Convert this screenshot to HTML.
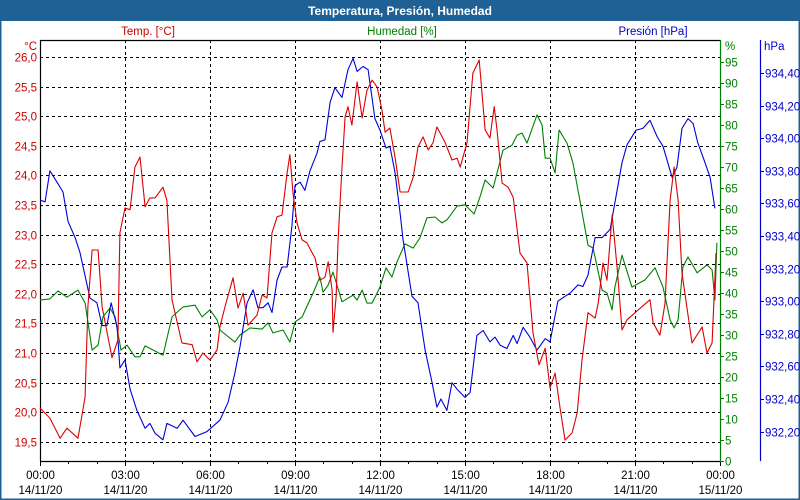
<!DOCTYPE html>
<html><head><meta charset="utf-8">
<style>
html,body{margin:0;padding:0;background:#fff;}
#wrap{position:relative;width:800px;height:500px;overflow:hidden;font-family:"Liberation Sans",sans-serif;}
svg text{font-family:"Liberation Sans",sans-serif;font-size:11.5px;}
</style></head>
<body>
<div id="wrap">
<svg id="chart" width="800" height="500">
  <rect x="0" y="0" width="800" height="500" fill="#fff"/>
  <rect x="0.5" y="0.5" width="799" height="499" fill="none" stroke="#1f6195" stroke-width="2"/>
  <rect x="0" y="0" width="800" height="21" fill="#1f6195"/>
  <text x="400" y="15" text-anchor="middle" fill="#fff" font-weight="bold" style="font-size:12px">Temperatura, Presión, Humedad</text>
  <text x="148" y="35" text-anchor="middle" fill="#cc0000">Temp. [°C]</text>
  <text x="402" y="35" text-anchor="middle" fill="#008000">Humedad [%]</text>
  <text x="653" y="35" text-anchor="middle" fill="#0000cc">Presión [hPa]</text>
  <text x="37" y="50" text-anchor="end" fill="#cc0000">°C</text>
  <text x="725" y="50" fill="#008000">%</text>
  <text x="764" y="50" fill="#0000cc">hPa</text>
  <g id="grid"></g>
  <g id="axes"></g>
  <g id="series"></g>
</svg>
</div>
<script>
const tempHours=[0,0.35,0.71,0.95,1.34,1.59,1.69,1.84,2.05,2.19,2.54,2.75,2.82,3.0,3.18,3.35,3.53,3.71,3.88,4.06,4.34,4.48,4.66,5.01,5.37,5.54,5.75,6.0,6.25,6.35,6.53,6.81,6.99,7.17,7.34,7.66,7.84,8.01,8.19,8.37,8.54,8.72,8.82,8.93,9.07,9.25,9.42,9.71,9.88,10.06,10.17,10.31,10.34,10.45,10.52,10.66,10.77,10.87,11.01,11.19,11.37,11.54,11.72,11.9,12.07,12.18,12.35,12.53,12.71,12.99,13.17,13.34,13.52,13.7,13.87,14.01,14.3,14.54,14.72,14.83,15.07,15.28,15.5,15.6,15.71,15.88,16.03,16.13,16.31,16.52,16.7,16.94,17.19,17.4,17.61,17.83,18.0,18.18,18.35,18.53,18.78,18.96,19.13,19.34,19.59,19.7,19.87,20.01,20.19,20.37,20.54,20.72,21.0,21.53,21.64,21.88,22.06,22.24,22.38,22.52,22.66,23.01,23.37,23.54,23.72,23.86];
const tempValues=[20.07,19.90,19.56,19.73,19.56,20.26,21.78,22.74,22.74,21.78,20.92,21.22,23.03,23.45,23.42,24.14,24.31,23.47,23.62,23.62,23.80,23.58,21.90,21.17,21.14,20.85,21.00,20.88,21.05,21.44,21.78,22.27,21.76,22.01,21.47,21.64,21.98,21.93,23.03,23.30,23.33,24.04,24.35,23.70,23.20,22.91,22.86,22.60,22.23,22.28,22.54,22.06,21.35,21.95,22.91,24.14,24.99,25.16,24.85,25.58,24.97,25.44,25.61,25.49,25.10,24.73,24.80,24.31,23.72,23.72,23.97,24.48,24.65,24.43,24.55,24.82,24.55,24.26,24.29,24.14,24.55,25.73,25.95,25.39,24.77,24.63,25.16,24.77,23.87,23.80,23.63,22.69,22.52,21.34,20.80,21.08,20.41,20.66,20.09,19.53,19.65,19.99,20.88,21.68,21.59,21.84,22.52,22.23,23.33,22.45,21.39,21.56,21.68,21.90,21.51,21.30,21.84,23.58,24.14,23.58,22.35,21.17,21.44,21.00,21.17,22.69];
const humHours=[0,0.35,0.64,0.95,1.34,1.59,1.84,2.05,2.22,2.47,2.65,2.75,2.86,3.07,3.35,3.53,3.71,4.34,4.66,5.05,5.47,5.72,6.0,6.25,6.35,6.88,7.06,7.41,7.84,8.05,8.22,8.58,8.82,9.0,9.25,9.64,9.88,9.99,10.17,10.34,10.66,11.05,11.19,11.37,11.54,11.72,12.0,12.21,12.42,12.6,12.88,13.17,13.41,13.66,13.94,14.19,14.36,14.72,15.0,15.32,15.53,15.71,15.99,16.34,16.66,16.84,17.01,17.19,17.54,17.72,17.83,18.0,18.18,18.32,18.6,18.81,18.99,19.16,19.34,19.52,19.84,20.01,20.19,20.29,20.54,20.89,21.35,21.71,21.99,22.24,22.38,22.52,22.69,22.87,23.19,23.54,23.72,23.82,23.89];
const humValues=[38.3,38.6,40.5,39,40.7,37.6,26.4,27.6,34.3,36.4,34.3,30.5,26.4,27.6,24.8,24.8,27.4,25.2,34.3,36.7,37.1,34.3,36,33.6,31.2,28.3,30,31.7,31.4,32.9,30.5,31.2,28.3,33.1,34.3,40,43.8,40.2,41.9,45,37.9,39.5,38.3,40.7,37.6,37.6,41.4,46,43.8,47.4,51.7,50.7,53.1,57.9,58.1,56.7,57.4,60.7,61,58.8,62.9,66.9,65,74,75.2,77.6,78.1,75.7,82.4,80,72.1,72.1,68.6,78.8,75.7,71,64.5,58.1,51.4,50.7,40.7,40,36,41.4,49,41.4,43.1,46,41.4,33.6,31.7,33.6,46.2,48.6,44.8,46.7,45.5,38.3,52];
const presHours=[0,0.18,0.35,0.6,0.81,0.99,1.24,1.41,1.76,2.01,2.19,2.36,2.51,2.72,2.82,3.0,3.18,3.42,3.71,3.88,4.06,4.34,4.48,4.84,5.05,5.47,5.89,6.35,6.64,6.88,7.06,7.31,7.52,7.69,7.87,8.05,8.19,8.37,8.54,8.72,8.89,9.0,9.18,9.35,9.53,9.78,9.88,10.06,10.24,10.41,10.66,10.87,11.05,11.19,11.4,11.58,11.82,12.0,12.21,12.35,12.53,12.71,12.81,13.13,13.34,13.59,13.84,14.01,14.15,14.36,14.54,14.72,15.0,15.18,15.42,15.64,15.88,16.06,16.24,16.48,16.7,16.84,17.05,17.29,17.54,17.83,18.0,18.28,18.53,18.71,18.99,19.16,19.34,19.59,19.84,20.12,20.37,20.54,20.72,21.04,21.28,21.53,21.78,21.99,22.31,22.48,22.66,22.87,23.05,23.22,23.41,23.65,23.82];
const presValues=[933.62,933.61,933.80,933.73,933.67,933.49,933.39,933.30,933.02,932.99,932.85,932.85,932.99,932.84,932.59,932.64,932.46,932.33,932.22,932.25,932.19,932.15,932.25,932.22,932.27,932.17,932.20,932.27,932.38,932.56,932.72,932.99,933.07,932.96,932.96,932.99,932.93,933.13,933.21,933.21,933.46,933.71,933.73,933.68,933.80,933.91,933.98,933.99,934.22,934.31,934.25,934.42,934.49,934.41,934.44,934.42,934.12,934.05,933.94,933.95,933.79,933.54,933.38,933.03,932.99,932.70,932.50,932.35,932.40,932.33,932.50,932.46,932.41,932.44,932.79,932.82,932.75,932.78,932.73,932.71,932.79,932.74,932.84,932.78,932.70,932.77,932.75,933.00,933.03,933.05,933.10,933.09,933.16,933.39,933.39,933.44,933.68,933.85,933.96,934.05,934.06,934.11,934.01,933.95,933.76,933.82,934.06,934.12,934.09,933.97,933.88,933.76,933.57];
const tempTicks=[19.5,20,20.5,21,21.5,22,22.5,23,23.5,24,24.5,25,25.5,26];
const humTicks=[0,5,10,15,20,25,30,35,40,45,50,55,60,65,70,75,80,85,90,95];
const presTicks=[932.2,932.4,932.6,932.8,933.0,933.2,933.4,933.6,933.8,934.0,934.2,934.4];
const timeTickHours=[0,3,6,9,12,15,18,21,24];
const timeLabels=["00:00","03:00","06:00","09:00","12:00","15:00","18:00","21:00","00:00"];
const dateLabels=["14/11/20","14/11/20","14/11/20","14/11/20","14/11/20","14/11/20","14/11/20","14/11/20","15/11/20"];

const L=40,R=720,T=40,B=461;
const NS="http://www.w3.org/2000/svg";
const xH=h=>L+h*(R-L)/24;
const yT=v=>57+(26-v)*59.2;
const yH=v=>461-v*4.2;
const yP=v=>73+(934.4-v)*163;
const fmt=(v,d)=>v.toFixed(d).replace('.',',');
function mk(tag,attrs,parent){const e=document.createElementNS(NS,tag);for(const k in attrs)e.setAttribute(k,attrs[k]);parent.appendChild(e);return e;}
const grid=document.getElementById('grid'),axes=document.getElementById('axes'),series=document.getElementById('series');

tempTicks.forEach(v=>{
  const y=Math.round(yT(v))+0.5;
  const gl=mk('line',{x1:L,x2:R,y1:y,y2:y,stroke:'#000','stroke-dasharray':'3,3','stroke-width':1},grid);
  
  
  const t=mk('text',{x:37,y:y+4,'text-anchor':'end',fill:'#cc0000'},axes);
  t.textContent=fmt(v,1);
  
  
});
timeTickHours.forEach((h,i)=>{
  const x=Math.round(xH(h))+0.5;
  if(h>0&&h<24){
    const gl=mk('line',{x1:x,x2:x,y1:T,y2:B,stroke:'#000','stroke-dasharray':'3,3','stroke-width':1},grid);
    
    
  }
  const t1=mk('text',{x:x,y:479,'text-anchor':'middle',fill:'#000'},axes);
  t1.textContent=timeLabels[i];
  
  
  const t2=mk('text',{x:x,y:494,'text-anchor':'middle',fill:'#000'},axes);
  t2.textContent=dateLabels[i];
  
  
});
for(let h=0;h<=24;h++){
  const x=Math.round(xH(h))+0.5;
  const tk=mk('line',{x1:x,x2:x,y1:B,y2:B+(h%3===0?5:3),stroke:'#000'},axes);
  
  
}
// frame lines
[[L+0.5,T,L+0.5,B,'#000'],[L,T+0.5,R,T+0.5,'#000'],[L,B+0.5,R,B+0.5,'#000'],[R+0.5,T,R+0.5,B+1,'#008000'],[760.5,T,760.5,B,'#0000cc']].forEach((a,i)=>{
  const ln=mk('line',{x1:a[0],y1:a[1],x2:a[2],y2:a[3],stroke:a[4],'stroke-width':1.2},axes);
  
  
});
humTicks.forEach(v=>{
  const y=Math.round(yH(v))+0.5;
  const tk=mk('line',{x1:R,x2:R+4,y1:y,y2:y,stroke:'#008000'},axes);
  
  
  const t=mk('text',{x:R+5,y:y+4,fill:'#008000'},axes);
  t.textContent=String(v);
  
  
});
presTicks.forEach(v=>{
  const y=Math.round(yP(v))+0.5;
  const tk=mk('line',{x1:760,x2:764,y1:y,y2:y,stroke:'#0000cc'},axes);
  
  
  const t=mk('text',{x:765,y:y+4,fill:'#0000cc'},axes);
  t.textContent=fmt(v,2);
  
  
});
function line(hours,vals,yf,color,name){
  const pts=hours.map((h,i)=>xH(h).toFixed(1)+','+yf(vals[i]).toFixed(1)).join(' ');
  const p=mk('polyline',{points:pts,fill:'none',stroke:color,'stroke-width':1.1,'stroke-linejoin':'round'},series);
  
  
}
line(humHours,humValues,yH,'#008000','humidity-line');
line(presHours,presValues,yP,'#0000dd','pressure-line');
line(tempHours,tempValues,yT,'#dd0000','temperature-line');
</script>
</body></html>
